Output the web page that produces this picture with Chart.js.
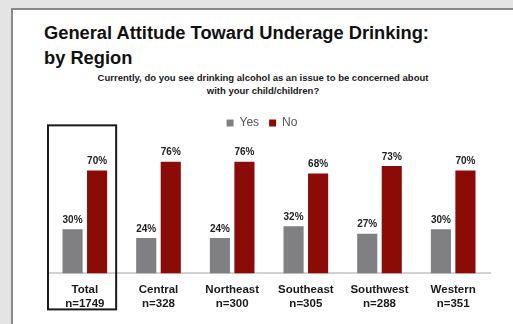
<!DOCTYPE html>
<html>
<head>
<meta charset="utf-8">
<script src="https://cdn.jsdelivr.net/npm/chart.js@4.4.1/dist/chart.umd.min.js"></script>
<style>
  html, body { margin: 0; padding: 0; }
  body { width: 513px; height: 324px; background: #e4e4e4; overflow: hidden; position: relative; font-family: "Liberation Sans", Arial, sans-serif; }
  #panel { position: absolute; left: 11px; top: 8px; width: 510px; height: 330px; background: #fff; border-left: 2px solid #8a8a8a; border-top: 2px solid #8a8a8a; }
  #title { position: absolute; left: 44px; top: 20px; margin: 0; font-size: 18.3px; line-height: 25px; font-weight: bold; color: #111; }
  #subtitle { position: absolute; left: 63px; width: 400px; top: 71px; margin: 0; text-align: center; font-size: 9.5px; line-height: 13px; font-weight: bold; color: #1a1a1a; }
  #chartBox { position: absolute; left: 0; top: 107px; width: 513px; height: 217px; }
</style>
</head>
<body>
<div id="panel"></div>
<h1 id="title">General Attitude Toward Underage Drinking:<br>by Region</h1>
<p id="subtitle">Currently, do you see drinking alcohol as an issue to be concerned about<br>with your child/children?</p>
<div id="chartBox"><canvas id="chart"></canvas></div>
<script>
const regions = [['Total', 'n=1749'], ['Central', 'n=328'], ['Northeast', 'n=300'], ['Southeast', 'n=305'], ['Southwest', 'n=288'], ['Western', 'n=351']];
const yesValues = [30, 24, 24, 32, 27, 30];
const noValues = [70, 76, 76, 68, 73, 70];

// value labels above every bar
const barLabels = {
    id: 'barLabels',
    afterDatasetsDraw(chart) {
        const ctx = chart.ctx;
        ctx.save();
        ctx.font = 'bold 10px "Liberation Sans", Arial, sans-serif';
        ctx.fillStyle = '#222';
        ctx.textAlign = 'center';
        ctx.textBaseline = 'bottom';
        chart.data.datasets.forEach((ds, i) => {
            chart.getDatasetMeta(i).data.forEach((bar, j) => {
                ctx.fillText(ds.data[j] + '%', bar.x, bar.y - 4);
            });
        });
        ctx.restore();
    }
};

// black frame around the Total group
const totalFrame = {
    id: 'totalFrame',
    afterDraw(chart) {
        const yesBar = chart.getDatasetMeta(0).data[0];
        const noBar = chart.getDatasetMeta(1).data[0];
        const yScale = chart.scales.y;
        const left = yesBar.x - yesBar.width / 2 - 14.5;
        const right = noBar.x + noBar.width / 2 + 9;
        const top = yScale.getPixelForValue(100) - 1;
        const bottom = yScale.getPixelForValue(0) + 36;
        const ctx = chart.ctx;
        ctx.save();
        ctx.strokeStyle = '#1a1a1a';
        ctx.lineWidth = 2;
        ctx.strokeRect(left, top, right - left, bottom - top);
        ctx.restore();
    }
};

const ctx = document.getElementById('chart').getContext('2d');
new Chart(ctx, {
    type: 'bar',
    data: {
        labels: regions,
        datasets: [{
            label: 'Yes',
            data: yesValues,
            backgroundColor: '#808083',
            barPercentage: 0.82,
            categoryPercentage: 0.666
        }, {
            label: 'No',
            data: noValues,
            backgroundColor: '#8b0c06',
            barPercentage: 0.82,
            categoryPercentage: 0.666
        }]
    },
    options: {
        responsive: true,
        maintainAspectRatio: false,
        animation: false,
        layout: { padding: { left: 34, right: 23, top: 0, bottom: 11 } },
        plugins: {
            legend: {
                position: 'top',
                labels: {
                    boxWidth: 7,
                    boxHeight: 7,
                    padding: 10,
                    color: '#555',
                    font: { family: '"Liberation Sans", Arial, sans-serif', size: 12 }
                }
            },
            tooltip: { enabled: false }
        },
        scales: {
            x: {
                grid: { display: false },
                border: { color: '#d2d2d2', width: 2 },
                ticks: {
                    color: '#1a1a1a',
                    padding: 2,
                    font: { family: '"Liberation Sans", Arial, sans-serif', size: 11.5, weight: 'bold', lineHeight: 1.2 }
                }
            },
            y: {
                min: 0,
                max: 91.4,
                grid: { display: false },
                border: { display: false },
                ticks: { display: false },
                afterFit(scale) { scale.width = 14; }
            }
        }
    },
    plugins: [barLabels, totalFrame]
});
</script>
</body>
</html>
